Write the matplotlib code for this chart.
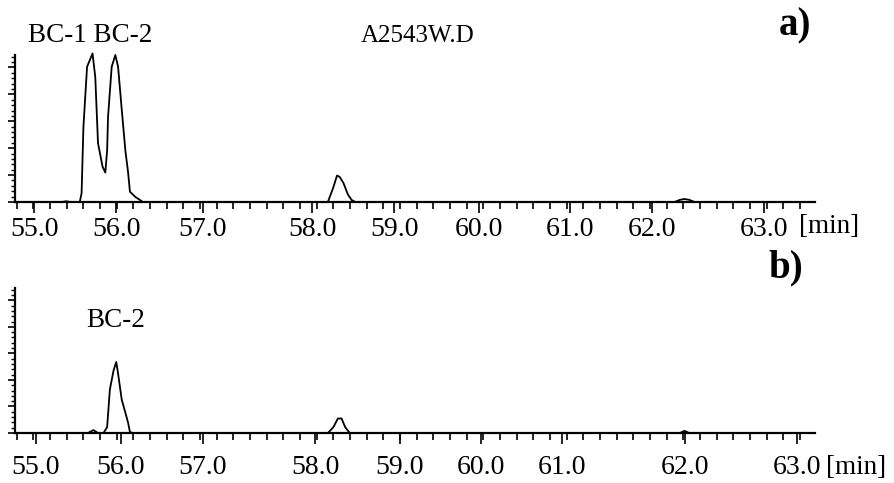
import numpy as np
import matplotlib
matplotlib.use("Agg")
import matplotlib.pyplot as plt
from matplotlib.ticker import MultipleLocator, NullFormatter

plt.rcParams['font.family'] = ['Liberation Serif', 'DejaVu Serif']

# ---- data (retention time [min], relative intensity) ----
top_t = [54.79, 55.30, 55.35, 55.40, 55.50, 55.52, 55.54, 55.58, 55.64, 55.67,
         55.70, 55.75, 55.78, 55.80, 55.81, 55.85, 55.89, 55.92, 55.96, 56.00,
         56.03, 56.05, 56.11, 56.16, 56.19, 58.22, 58.28, 58.32, 58.35, 58.39,
         58.44, 58.48, 58.52, 62.02, 62.08, 62.13, 62.18, 62.24, 63.56]
top_i = [0, 0, 0.5, 0, 0, 6, 51, 92, 101, 85,
         40, 24, 20, 35, 58, 92, 100, 92, 63, 35,
         20, 7, 3.4, 1.4, 0, 0, 10, 18, 17, 13,
         5, 1.4, 0, 0, 1.5, 2, 1.5, 0, 0]

bot_t = [54.79, 55.59, 55.65, 55.70, 55.76, 55.80, 55.83, 55.87, 55.90, 55.92,
         55.96, 56.00, 56.03, 56.05, 56.08, 58.22, 58.28, 58.33, 58.37, 58.41,
         58.46, 62.08, 62.13, 62.18, 63.54]
bot_i = [0, 0, 2, 0, 0, 4, 30, 43, 49, 41,
         23, 14, 7, 0.7, 0, 0, 4, 10, 10, 4,
         0, 0, 1.5, 0, 0]

tick_labels = ["55.0", "56.0", "57.0", "58.0", "59.0", "60.0", "61.0", "62.0", "63.0"]
top_tick_pos = [55.00, 55.90, 56.85, 58.05, 58.95, 59.88, 60.87, 61.77, 63.00]
bot_tick_pos = [55.02, 55.95, 56.85, 58.08, 59.01, 59.90, 60.79, 62.13, 63.36]

W, H = 895, 483
fig = plt.figure(figsize=(W / 100, H / 100), dpi=100)

def fx(px):
    return px / W

def fy(py):
    return 1 - py / H

ax1 = fig.add_axes([fx(15), fy(202), (815 - 15) / W, 147 / H])
ax2 = fig.add_axes([fx(15), fy(433), (815 - 15) / W, 145 / H])

for ax, t, inten, tpos, pad in [(ax1, top_t, top_i, top_tick_pos, 3),
                                (ax2, bot_t, bot_i, bot_tick_pos, 8)]:
    ax.plot(t, inten, color='black', lw=1.3, clip_on=False)
    ax.set_xlim(54.79, 63.56)
    ax.set_ylim(0, 100)
    for s in ['top', 'right']:
        ax.spines[s].set_visible(False)
    for s in ['left', 'bottom']:
        ax.spines[s].set_linewidth(1.6)
    ax.set_xticks(tpos, tick_labels)
    ax.xaxis.set_minor_locator(MultipleLocator(0.1827))
    ax.tick_params(axis='x', which='major', length=8, width=1.2, pad=pad,
                   labelsize=20, direction='out')
    ax.tick_params(axis='x', which='minor', length=5, width=1.2, direction='out')
    ax.yaxis.set_major_locator(MultipleLocator(18.3))
    ax.yaxis.set_minor_locator(MultipleLocator(18.3 / 5))
    ax.yaxis.set_major_formatter(NullFormatter())
    ax.tick_params(axis='y', which='major', length=5, width=1.2, direction='out')
    ax.tick_params(axis='y', which='minor', length=3, width=1.0, direction='out')

# texts
fig.text(fx(90), fy(42), "BC-1 BC-2", fontsize=19.5, ha='center', va='baseline')
fig.text(fx(418), fy(42), "A2543W.D", fontsize=18, ha='center', va='baseline')
fig.text(fx(795), fy(35), "a)", fontsize=28, fontweight='bold', ha='center', va='baseline')
fig.text(fx(829), fy(233), "[min]", fontsize=19.5, ha='center', va='baseline')
fig.text(fx(786), fy(277), "b)", fontsize=28, fontweight='bold', ha='center', va='baseline')
fig.text(fx(116), fy(327), "BC-2", fontsize=19.5, ha='center', va='baseline')
fig.text(fx(856), fy(474), "[min]", fontsize=19.5, ha='center', va='baseline')

fig.savefig("out.png", dpi=100)
